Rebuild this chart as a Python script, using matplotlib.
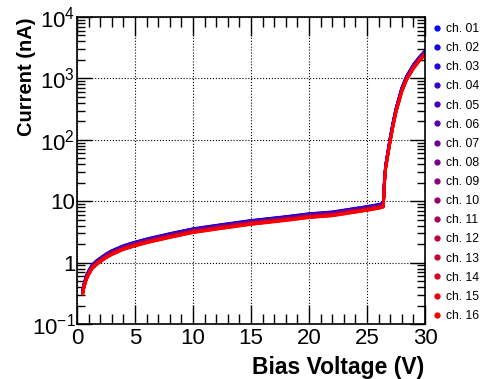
import numpy as np
import matplotlib
matplotlib.use("Agg")
import matplotlib.pyplot as plt
from matplotlib.lines import Line2D
from matplotlib.ticker import FixedLocator, MultipleLocator, NullFormatter

plt.rcParams['font.family'] = ['Liberation Sans', 'DejaVu Sans']
plt.rcParams['mathtext.fontset'] = 'custom'
plt.rcParams['mathtext.rm'] = 'Liberation Sans'

# bias voltage (V) and typical current (nA)
voltage = [0.5, 0.6, 0.8, 1.0, 1.3, 1.7, 2.0, 2.5, 3.0, 4.0, 5.0, 6.0, 8.0,
           10.0, 12.0, 15.0, 18.0, 20.0, 22.0, 25.0, 26.0, 26.4, 26.45, 26.5,
           26.6, 26.8, 27.0, 27.25, 27.5, 28.0, 28.4, 29.0, 29.5, 30.0]
current = [0.33, 0.42, 0.56, 0.68, 0.85, 1.0, 1.1, 1.28, 1.45, 1.75, 2.0, 2.25,
           2.75, 3.3, 3.75, 4.5, 5.2, 5.8, 6.2, 7.6, 8.2, 8.6, 12.0, 20.0,
           35.0, 60.0, 100.0, 180.0, 300.0, 650.0, 1000.0, 1550.0, 2050.0, 2600.0]

channels = ['ch. %02d' % i for i in range(1, 17)]
# per-channel relative spread of the current
ch_scale = [1.08, 1.07, 1.06, 1.05, 1.04, 1.03, 1.02, 1.01,
            1.00, 0.99, 0.98, 0.97, 0.96, 0.95, 0.94, 0.93]

colors = [(i / 15, 0.0, 1 - i / 15) for i in range(16)]

fig = plt.figure(figsize=(4.88, 3.79), dpi=100)
ax = fig.add_axes([77 / 488, 1 - 324 / 379, 348 / 488, 307 / 379])

v = np.array(voltage)
for name, s, c in zip(channels, ch_scale, colors):
    ax.plot(v, np.array(current) * s, color=c, lw=2.0, solid_capstyle='round')

ax.set_yscale('log')
ax.set_xlim(0, 30)
ax.set_ylim(0.1, 1e4)

ax.xaxis.set_major_locator(MultipleLocator(5))
ax.xaxis.set_minor_locator(MultipleLocator(1))
ax.yaxis.set_major_locator(FixedLocator([0.1, 1, 10, 100, 1000, 10000]))
ax.set_yticklabels([r'$10^{-1}$', '1', '10', r'$10^{2}$', r'$10^{3}$', r'$10^{4}$'])
minors = [m * 10.0 ** e for e in range(-1, 4) for m in range(2, 10)]
ax.yaxis.set_minor_locator(FixedLocator(minors))
ax.yaxis.set_minor_formatter(NullFormatter())

ax.tick_params(which='both', direction='in', top=True, right=True,
               labelsize=16, width=1, pad=3)
ax.tick_params(axis='y', pad=1.2)
ax.tick_params(axis='x', which='major', length=14)
ax.tick_params(axis='x', which='minor', length=7)
ax.tick_params(axis='y', which='major', length=11)
ax.tick_params(axis='y', which='minor', length=6)
for sp in ax.spines.values():
    sp.set_linewidth(1.2)

ax.grid(True, which='major', color='black', linestyle=':', linewidth=0.8)

ax.set_xlabel('Bias Voltage (V)', fontsize=16.5, fontweight='bold', loc='right')
ax.xaxis.set_label_coords(0.997, -0.105)
ax.set_ylabel('Current (nA)', fontsize=14.5, fontweight='bold', loc='top')
ax.yaxis.set_label_coords(-0.119, 0.998)

handles = [Line2D([], [], color=c, marker='o', ls='', markersize=3.5)
           for c in colors]
fig.legend(handles, channels, loc='upper left',
           bbox_to_anchor=(433.4 / 488, 1 - 23 / 379),
           frameon=False, fontsize=8.7, handlelength=0.6, handletextpad=0.44,
           labelspacing=0.59, borderaxespad=0, borderpad=0)

fig.savefig('out.png', dpi=100)
